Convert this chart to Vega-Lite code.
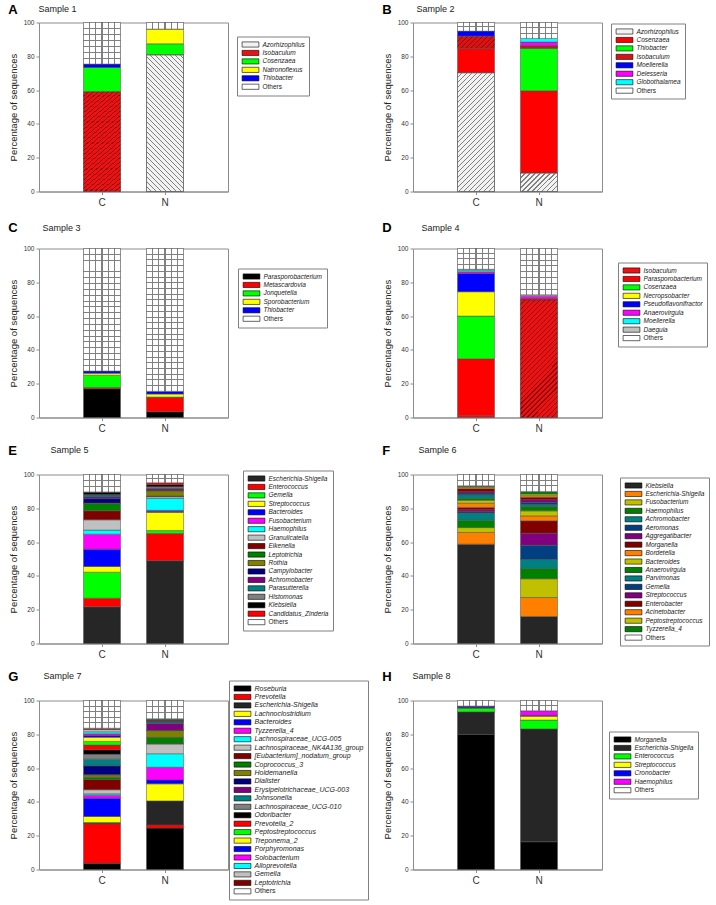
{
"$schema": "https://vega.github.io/schema/vega-lite/v6.json",
"padding": {"left": 7, "top": 2.5, "right": 0, "bottom": 0},
"columns": 2,
"spacing": {"row": 57, "column": 185},
"bounds": "flush",
"resolve": {"scale": {"color": "independent", "x": "independent", "y": "independent"}, "legend": {"color": "independent"}},
"config": {
 "font": "Liberation Sans",
 "view": {"stroke": "#8c8c8c", "strokeWidth": 1},
 "axis": {"domainColor": "#8c8c8c", "tickColor": "#8c8c8c", "labelColor": "#333333", "titleColor": "#222222", "grid": false, "titleFontWeight": "normal", "labelFont": "Liberation Sans", "titleFont": "Liberation Sans"},
 "axisY": {"labelFontSize": 6.5, "tickSize": 3, "labelPadding": 2, "titleFontSize": 9.5, "titlePadding": 5},
 "axisX": {"labelFontSize": 10, "tickSize": 3, "labelPadding": 3, "labelAngle": 0},
 "legend": {"orient": "none", "labelFont": "Liberation Sans", "labelFontSize": 6.5, "labelColor": "#222222", "symbolType": "M-2.4,-0.74H2.4V0.74H-2.4Z", "symbolSize": 49, "symbolStrokeColor": "#000000", "symbolStrokeWidth": 0.6, "symbolOffset": 5.5, "labelOffset": 8, "rowPadding": 0.45, "padding": 4, "strokeColor": "#808080", "fillColor": "#ffffff", "symbolOpacity": 1},
 "title": {"font": "Liberation Sans", "fontSize": 13, "fontWeight": "bold", "anchor": "start", "frame": "bounds", "color": "#000000", "offset": -12}
},
"concat": [
{
 "width": 189, "height": 169,
 "title": {"text": "A"},
 "resolve": {"axis": {"x": "independent"}},
 "data": {"values": [
  {"s":"C","g":"Isobaculum","v":59},{"s":"C","g":"Cosenzaea","v":14.4},{"s":"C","g":"Thiobacter","v":2.0},{"s":"C","g":"Others","v":24.6},
  {"s":"N","g":"Azorhizophilus","v":80.9},{"s":"N","g":"Cosenzaea","v":6.5},{"s":"N","g":"Natronoflexus","v":8.7},{"s":"N","g":"Others","v":3.9}
 ]},
 "transform": [{"window": [{"op": "row_number", "as": "o"}]}, {"stack": "v", "groupby": ["s"], "sort": [{"field": "o", "order": "ascending"}], "as": ["y0", "y1"]}],
 "encoding": {
  "x": {"field": "s", "type": "nominal", "sort": ["C","N"], "scale": {"paddingInner": 0.413, "paddingOuter": 0.7065}, "axis": {"title": null}},
  "y": {"field": "y0", "type": "quantitative", "scale": {"domain": [0,100], "nice": false}, "axis": {"title": "Percentage of sequences", "values": [0,20,40,60,80,100]}},
  "y2": {"field": "y1"}
 },
 "layer": [
  {"mark": {"type": "bar", "stroke": "#4d4d4d", "strokeWidth": 0.5},
   "encoding": {"color": {"field": "g", "type": "nominal",
    "scale": {"domain": ["Azorhizophilus","Isobaculum","Cosenzaea","Natronoflexus","Thiobacter","Others"], "range": ["#f2f2f2","#ee1111","#00ff00","#ffff00","#0000ff","#ffffff"]},
    "legend": {"title": null, "orient": "none", "legendX": 198, "legendY": 14, "encode": {"labels": {"update": {"fontStyle": {"signal": "datum.value === 'Others' ? 'normal' : 'italic'"}}}}}}}},
  {"transform": [{"filter": "datum.g === 'Isobaculum' || datum.g === 'Azorhizophilus'"}],
   "mark": {"type": "bar", "stroke": "#4d4d4d", "strokeWidth": 0.5},
   "encoding": {"x": {"field": "s", "type": "nominal", "sort": ["C","N"], "axis": null}, "fill": {"condition": {"test": "datum.s === 'C'", "value": {"gradient":"linear","x1":0,"y1":0,"x2":0.3723,"y2":1.1955,"stops":[
{"offset":0.0282,"color":"rgba(255,255,255,0)"},{"offset":0.0282,"color":"#8b0000"},{"offset":0.036,"color":"#8b0000"},{"offset":0.036,"color":"rgba(255,255,255,0)"},
{"offset":0.0603,"color":"rgba(255,255,255,0)"},{"offset":0.0603,"color":"#8b0000"},{"offset":0.0681,"color":"#8b0000"},{"offset":0.0681,"color":"rgba(255,255,255,0)"},
{"offset":0.0924,"color":"rgba(255,255,255,0)"},{"offset":0.0924,"color":"#8b0000"},{"offset":0.1002,"color":"#8b0000"},{"offset":0.1002,"color":"rgba(255,255,255,0)"},
{"offset":0.1245,"color":"rgba(255,255,255,0)"},{"offset":0.1245,"color":"#8b0000"},{"offset":0.1323,"color":"#8b0000"},{"offset":0.1323,"color":"rgba(255,255,255,0)"},
{"offset":0.1566,"color":"rgba(255,255,255,0)"},{"offset":0.1566,"color":"#8b0000"},{"offset":0.1644,"color":"#8b0000"},{"offset":0.1644,"color":"rgba(255,255,255,0)"},
{"offset":0.1887,"color":"rgba(255,255,255,0)"},{"offset":0.1887,"color":"#8b0000"},{"offset":0.1965,"color":"#8b0000"},{"offset":0.1965,"color":"rgba(255,255,255,0)"},
{"offset":0.2207,"color":"rgba(255,255,255,0)"},{"offset":0.2207,"color":"#8b0000"},{"offset":0.2285,"color":"#8b0000"},{"offset":0.2285,"color":"rgba(255,255,255,0)"},
{"offset":0.2528,"color":"rgba(255,255,255,0)"},{"offset":0.2528,"color":"#8b0000"},{"offset":0.2606,"color":"#8b0000"},{"offset":0.2606,"color":"rgba(255,255,255,0)"},
{"offset":0.2849,"color":"rgba(255,255,255,0)"},{"offset":0.2849,"color":"#8b0000"},{"offset":0.2927,"color":"#8b0000"},{"offset":0.2927,"color":"rgba(255,255,255,0)"},
{"offset":0.317,"color":"rgba(255,255,255,0)"},{"offset":0.317,"color":"#8b0000"},{"offset":0.3248,"color":"#8b0000"},{"offset":0.3248,"color":"rgba(255,255,255,0)"},
{"offset":0.3491,"color":"rgba(255,255,255,0)"},{"offset":0.3491,"color":"#8b0000"},{"offset":0.3569,"color":"#8b0000"},{"offset":0.3569,"color":"rgba(255,255,255,0)"},
{"offset":0.3812,"color":"rgba(255,255,255,0)"},{"offset":0.3812,"color":"#8b0000"},{"offset":0.389,"color":"#8b0000"},{"offset":0.389,"color":"rgba(255,255,255,0)"},
{"offset":0.4133,"color":"rgba(255,255,255,0)"},{"offset":0.4133,"color":"#8b0000"},{"offset":0.4211,"color":"#8b0000"},{"offset":0.4211,"color":"rgba(255,255,255,0)"},
{"offset":0.4454,"color":"rgba(255,255,255,0)"},{"offset":0.4454,"color":"#8b0000"},{"offset":0.4532,"color":"#8b0000"},{"offset":0.4532,"color":"rgba(255,255,255,0)"},
{"offset":0.4775,"color":"rgba(255,255,255,0)"},{"offset":0.4775,"color":"#8b0000"},{"offset":0.4853,"color":"#8b0000"},{"offset":0.4853,"color":"rgba(255,255,255,0)"},
{"offset":0.5096,"color":"rgba(255,255,255,0)"},{"offset":0.5096,"color":"#8b0000"},{"offset":0.5174,"color":"#8b0000"},{"offset":0.5174,"color":"rgba(255,255,255,0)"},
{"offset":0.5417,"color":"rgba(255,255,255,0)"},{"offset":0.5417,"color":"#8b0000"},{"offset":0.5495,"color":"#8b0000"},{"offset":0.5495,"color":"rgba(255,255,255,0)"},
{"offset":0.5738,"color":"rgba(255,255,255,0)"},{"offset":0.5738,"color":"#8b0000"},{"offset":0.5816,"color":"#8b0000"},{"offset":0.5816,"color":"rgba(255,255,255,0)"},
{"offset":0.6058,"color":"rgba(255,255,255,0)"},{"offset":0.6058,"color":"#8b0000"},{"offset":0.6136,"color":"#8b0000"},{"offset":0.6136,"color":"rgba(255,255,255,0)"},
{"offset":0.6379,"color":"rgba(255,255,255,0)"},{"offset":0.6379,"color":"#8b0000"},{"offset":0.6457,"color":"#8b0000"},{"offset":0.6457,"color":"rgba(255,255,255,0)"},
{"offset":0.67,"color":"rgba(255,255,255,0)"},{"offset":0.67,"color":"#8b0000"},{"offset":0.6778,"color":"#8b0000"},{"offset":0.6778,"color":"rgba(255,255,255,0)"},
{"offset":0.7021,"color":"rgba(255,255,255,0)"},{"offset":0.7021,"color":"#8b0000"},{"offset":0.7099,"color":"#8b0000"},{"offset":0.7099,"color":"rgba(255,255,255,0)"},
{"offset":0.7342,"color":"rgba(255,255,255,0)"},{"offset":0.7342,"color":"#8b0000"},{"offset":0.742,"color":"#8b0000"},{"offset":0.742,"color":"rgba(255,255,255,0)"},
{"offset":0.7663,"color":"rgba(255,255,255,0)"},{"offset":0.7663,"color":"#8b0000"},{"offset":0.7741,"color":"#8b0000"},{"offset":0.7741,"color":"rgba(255,255,255,0)"},
{"offset":0.7984,"color":"rgba(255,255,255,0)"},{"offset":0.7984,"color":"#8b0000"},{"offset":0.8062,"color":"#8b0000"},{"offset":0.8062,"color":"rgba(255,255,255,0)"},
{"offset":0.8305,"color":"rgba(255,255,255,0)"},{"offset":0.8305,"color":"#8b0000"},{"offset":0.8383,"color":"#8b0000"},{"offset":0.8383,"color":"rgba(255,255,255,0)"},
{"offset":0.8626,"color":"rgba(255,255,255,0)"},{"offset":0.8626,"color":"#8b0000"},{"offset":0.8704,"color":"#8b0000"},{"offset":0.8704,"color":"rgba(255,255,255,0)"},
{"offset":0.8947,"color":"rgba(255,255,255,0)"},{"offset":0.8947,"color":"#8b0000"},{"offset":0.9025,"color":"#8b0000"},{"offset":0.9025,"color":"rgba(255,255,255,0)"},
{"offset":0.9268,"color":"rgba(255,255,255,0)"},{"offset":0.9268,"color":"#8b0000"},{"offset":0.9346,"color":"#8b0000"},{"offset":0.9346,"color":"rgba(255,255,255,0)"},
{"offset":0.9589,"color":"rgba(255,255,255,0)"},{"offset":0.9589,"color":"#8b0000"},{"offset":0.9667,"color":"#8b0000"},{"offset":0.9667,"color":"rgba(255,255,255,0)"},
{"offset":0.991,"color":"rgba(255,255,255,0)"},{"offset":0.991,"color":"#8b0000"},{"offset":0.9988,"color":"#8b0000"},{"offset":0.9988,"color":"rgba(255,255,255,0)"}]}},
   "value": {"gradient":"linear","x1":0,"y1":1,"x2":0.3204,"y2":-0.1839,"stops":[
{"offset":0.0253,"color":"rgba(255,255,255,0)"},{"offset":0.0253,"color":"#808080"},{"offset":0.0323,"color":"#808080"},{"offset":0.0323,"color":"rgba(255,255,255,0)"},
{"offset":0.0541,"color":"rgba(255,255,255,0)"},{"offset":0.0541,"color":"#808080"},{"offset":0.0611,"color":"#808080"},{"offset":0.0611,"color":"rgba(255,255,255,0)"},
{"offset":0.0829,"color":"rgba(255,255,255,0)"},{"offset":0.0829,"color":"#808080"},{"offset":0.0899,"color":"#808080"},{"offset":0.0899,"color":"rgba(255,255,255,0)"},
{"offset":0.1116,"color":"rgba(255,255,255,0)"},{"offset":0.1116,"color":"#808080"},{"offset":0.1186,"color":"#808080"},{"offset":0.1186,"color":"rgba(255,255,255,0)"},
{"offset":0.1404,"color":"rgba(255,255,255,0)"},{"offset":0.1404,"color":"#808080"},{"offset":0.1474,"color":"#808080"},{"offset":0.1474,"color":"rgba(255,255,255,0)"},
{"offset":0.1692,"color":"rgba(255,255,255,0)"},{"offset":0.1692,"color":"#808080"},{"offset":0.1762,"color":"#808080"},{"offset":0.1762,"color":"rgba(255,255,255,0)"},
{"offset":0.198,"color":"rgba(255,255,255,0)"},{"offset":0.198,"color":"#808080"},{"offset":0.205,"color":"#808080"},{"offset":0.205,"color":"rgba(255,255,255,0)"},
{"offset":0.2268,"color":"rgba(255,255,255,0)"},{"offset":0.2268,"color":"#808080"},{"offset":0.2338,"color":"#808080"},{"offset":0.2338,"color":"rgba(255,255,255,0)"},
{"offset":0.2556,"color":"rgba(255,255,255,0)"},{"offset":0.2556,"color":"#808080"},{"offset":0.2626,"color":"#808080"},{"offset":0.2626,"color":"rgba(255,255,255,0)"},
{"offset":0.2844,"color":"rgba(255,255,255,0)"},{"offset":0.2844,"color":"#808080"},{"offset":0.2914,"color":"#808080"},{"offset":0.2914,"color":"rgba(255,255,255,0)"},
{"offset":0.3131,"color":"rgba(255,255,255,0)"},{"offset":0.3131,"color":"#808080"},{"offset":0.3201,"color":"#808080"},{"offset":0.3201,"color":"rgba(255,255,255,0)"},
{"offset":0.3419,"color":"rgba(255,255,255,0)"},{"offset":0.3419,"color":"#808080"},{"offset":0.3489,"color":"#808080"},{"offset":0.3489,"color":"rgba(255,255,255,0)"},
{"offset":0.3707,"color":"rgba(255,255,255,0)"},{"offset":0.3707,"color":"#808080"},{"offset":0.3777,"color":"#808080"},{"offset":0.3777,"color":"rgba(255,255,255,0)"},
{"offset":0.3995,"color":"rgba(255,255,255,0)"},{"offset":0.3995,"color":"#808080"},{"offset":0.4065,"color":"#808080"},{"offset":0.4065,"color":"rgba(255,255,255,0)"},
{"offset":0.4283,"color":"rgba(255,255,255,0)"},{"offset":0.4283,"color":"#808080"},{"offset":0.4353,"color":"#808080"},{"offset":0.4353,"color":"rgba(255,255,255,0)"},
{"offset":0.4571,"color":"rgba(255,255,255,0)"},{"offset":0.4571,"color":"#808080"},{"offset":0.4641,"color":"#808080"},{"offset":0.4641,"color":"rgba(255,255,255,0)"},
{"offset":0.4858,"color":"rgba(255,255,255,0)"},{"offset":0.4858,"color":"#808080"},{"offset":0.4928,"color":"#808080"},{"offset":0.4928,"color":"rgba(255,255,255,0)"},
{"offset":0.5146,"color":"rgba(255,255,255,0)"},{"offset":0.5146,"color":"#808080"},{"offset":0.5216,"color":"#808080"},{"offset":0.5216,"color":"rgba(255,255,255,0)"},
{"offset":0.5434,"color":"rgba(255,255,255,0)"},{"offset":0.5434,"color":"#808080"},{"offset":0.5504,"color":"#808080"},{"offset":0.5504,"color":"rgba(255,255,255,0)"},
{"offset":0.5722,"color":"rgba(255,255,255,0)"},{"offset":0.5722,"color":"#808080"},{"offset":0.5792,"color":"#808080"},{"offset":0.5792,"color":"rgba(255,255,255,0)"},
{"offset":0.601,"color":"rgba(255,255,255,0)"},{"offset":0.601,"color":"#808080"},{"offset":0.608,"color":"#808080"},{"offset":0.608,"color":"rgba(255,255,255,0)"},
{"offset":0.6298,"color":"rgba(255,255,255,0)"},{"offset":0.6298,"color":"#808080"},{"offset":0.6368,"color":"#808080"},{"offset":0.6368,"color":"rgba(255,255,255,0)"},
{"offset":0.6586,"color":"rgba(255,255,255,0)"},{"offset":0.6586,"color":"#808080"},{"offset":0.6656,"color":"#808080"},{"offset":0.6656,"color":"rgba(255,255,255,0)"},
{"offset":0.6873,"color":"rgba(255,255,255,0)"},{"offset":0.6873,"color":"#808080"},{"offset":0.6943,"color":"#808080"},{"offset":0.6943,"color":"rgba(255,255,255,0)"},
{"offset":0.7161,"color":"rgba(255,255,255,0)"},{"offset":0.7161,"color":"#808080"},{"offset":0.7231,"color":"#808080"},{"offset":0.7231,"color":"rgba(255,255,255,0)"},
{"offset":0.7449,"color":"rgba(255,255,255,0)"},{"offset":0.7449,"color":"#808080"},{"offset":0.7519,"color":"#808080"},{"offset":0.7519,"color":"rgba(255,255,255,0)"},
{"offset":0.7737,"color":"rgba(255,255,255,0)"},{"offset":0.7737,"color":"#808080"},{"offset":0.7807,"color":"#808080"},{"offset":0.7807,"color":"rgba(255,255,255,0)"},
{"offset":0.8025,"color":"rgba(255,255,255,0)"},{"offset":0.8025,"color":"#808080"},{"offset":0.8095,"color":"#808080"},{"offset":0.8095,"color":"rgba(255,255,255,0)"},
{"offset":0.8313,"color":"rgba(255,255,255,0)"},{"offset":0.8313,"color":"#808080"},{"offset":0.8383,"color":"#808080"},{"offset":0.8383,"color":"rgba(255,255,255,0)"},
{"offset":0.8601,"color":"rgba(255,255,255,0)"},{"offset":0.8601,"color":"#808080"},{"offset":0.8671,"color":"#808080"},{"offset":0.8671,"color":"rgba(255,255,255,0)"},
{"offset":0.8888,"color":"rgba(255,255,255,0)"},{"offset":0.8888,"color":"#808080"},{"offset":0.8958,"color":"#808080"},{"offset":0.8958,"color":"rgba(255,255,255,0)"},
{"offset":0.9176,"color":"rgba(255,255,255,0)"},{"offset":0.9176,"color":"#808080"},{"offset":0.9246,"color":"#808080"},{"offset":0.9246,"color":"rgba(255,255,255,0)"},
{"offset":0.9464,"color":"rgba(255,255,255,0)"},{"offset":0.9464,"color":"#808080"},{"offset":0.9534,"color":"#808080"},{"offset":0.9534,"color":"rgba(255,255,255,0)"},
{"offset":0.9752,"color":"rgba(255,255,255,0)"},{"offset":0.9752,"color":"#808080"},{"offset":0.9822,"color":"#808080"},{"offset":0.9822,"color":"rgba(255,255,255,0)"}]}}}},
  {"transform": [{"filter": "datum.g === 'Others'"}],
   "mark": {"type": "bar", "strokeWidth": 0, "fill": {"gradient":"linear","x1":0,"y1":0,"x2":1,"y2":0,"stops":[{"offset":0,"color":"#ffffff"},{"offset":0.153,"color":"#ffffff"},{"offset":0.153,"color":"#808080"},{"offset":0.181,"color":"#808080"},{"offset":0.181,"color":"#ffffff"},{"offset":0.319,"color":"#ffffff"},{"offset":0.319,"color":"#808080"},{"offset":0.347,"color":"#808080"},{"offset":0.347,"color":"#ffffff"},{"offset":0.486,"color":"#ffffff"},{"offset":0.486,"color":"#808080"},{"offset":0.514,"color":"#808080"},{"offset":0.514,"color":"#ffffff"},{"offset":0.653,"color":"#ffffff"},{"offset":0.653,"color":"#808080"},{"offset":0.681,"color":"#808080"},{"offset":0.681,"color":"#ffffff"},{"offset":0.819,"color":"#ffffff"},{"offset":0.819,"color":"#808080"},{"offset":0.847,"color":"#808080"},{"offset":0.847,"color":"#ffffff"},{"offset":1,"color":"#ffffff"}]}},
   "encoding": {"x": {"field": "s", "type": "nominal", "sort": ["C","N"], "axis": {"orient": "top", "title": "Sample 1", "labels": false, "ticks": false, "domain": false, "titleAnchor": "start", "titleAlign": "left", "titleBaseline": "alphabetic", "titleX": -1, "titleY": -11, "titleFontSize": 9, "titleFontWeight": "normal", "titleColor": "#222222"}}}},
  {"transform": [{"filter": "datum.g === 'Others'"}],
   "mark": {"type": "bar", "stroke": "#4d4d4d", "strokeWidth": 0.5},
   "encoding": {"x": {"field": "s", "type": "nominal", "sort": ["C","N"], "axis": null}, "fill": {"condition": {"test": "datum.s === 'C'", "value": {"gradient":"linear","x1":0,"y1":0,"x2":0,"y2":1,"stops":[{"offset":0.131,"color":"rgba(255,255,255,0)"},{"offset":0.131,"color":"#808080"},{"offset":0.155,"color":"#808080"},{"offset":0.155,"color":"rgba(255,255,255,0)"},{"offset":0.274,"color":"rgba(255,255,255,0)"},{"offset":0.274,"color":"#808080"},{"offset":0.298,"color":"#808080"},{"offset":0.298,"color":"rgba(255,255,255,0)"},{"offset":0.417,"color":"rgba(255,255,255,0)"},{"offset":0.417,"color":"#808080"},{"offset":0.441,"color":"#808080"},{"offset":0.441,"color":"rgba(255,255,255,0)"},{"offset":0.559,"color":"rgba(255,255,255,0)"},{"offset":0.559,"color":"#808080"},{"offset":0.583,"color":"#808080"},{"offset":0.583,"color":"rgba(255,255,255,0)"},{"offset":0.702,"color":"rgba(255,255,255,0)"},{"offset":0.702,"color":"#808080"},{"offset":0.726,"color":"#808080"},{"offset":0.726,"color":"rgba(255,255,255,0)"},{"offset":0.845,"color":"rgba(255,255,255,0)"},{"offset":0.845,"color":"#808080"},{"offset":0.869,"color":"#808080"},{"offset":0.869,"color":"rgba(255,255,255,0)"}]}}, "value": "transparent"}}}
 ]
},
{
 "width": 189, "height": 169,
 "title": {"text": "B"},
 "resolve": {"axis": {"x": "independent"}},
 "data": {"values": [
  {"s":"C","g":"Azorhizophilus","v":70.3},{"s":"C","g":"Cosenzaea","v":14.5},{"s":"C","g":"Isobaculum","v":7.1},{"s":"C","g":"Moellerella","v":3.0},{"s":"C","g":"Others","v":5.1},
  {"s":"N","g":"Azorhizophilus","v":11},{"s":"N","g":"Cosenzaea","v":48.6},{"s":"N","g":"Thiobacter","v":25.2},{"s":"N","g":"Isobaculum","v":1.4},{"s":"N","g":"Delesseria","v":2.2},{"s":"N","g":"Globothalamea","v":2.2},{"s":"N","g":"Others","v":9.4}
 ]},
 "transform": [{"window": [{"op": "row_number", "as": "o"}]}, {"stack": "v", "groupby": ["s"], "sort": [{"field": "o", "order": "ascending"}], "as": ["y0", "y1"]}],
 "encoding": {
  "x": {"field": "s", "type": "nominal", "sort": ["C","N"], "scale": {"paddingInner": 0.413, "paddingOuter": 0.7065}, "axis": {"title": null}},
  "y": {"field": "y0", "type": "quantitative", "scale": {"domain": [0,100], "nice": false}, "axis": {"title": "Percentage of sequences", "values": [0,20,40,60,80,100]}},
  "y2": {"field": "y1"}
 },
 "layer": [
  {"mark": {"type": "bar", "stroke": "#4d4d4d", "strokeWidth": 0.5},
   "encoding": {"color": {"field": "g", "type": "nominal",
    "scale": {"domain": ["Azorhizophilus","Cosenzaea","Thiobacter","Isobaculum","Moellerella","Delesseria","Globothalamea","Others"], "range": ["#f2f2f2","#ff0000","#00ff00","#dd1111","#0000ff","#ff00ff","#00ffff","#ffffff"]},
    "legend": {"title": null, "orient": "none", "legendX": 198, "legendY": 1, "encode": {"labels": {"update": {"fontStyle": {"signal": "datum.value === 'Others' ? 'normal' : 'italic'"}}}}}}}},
  {"transform": [{"filter": "datum.g === 'Isobaculum' || datum.g === 'Azorhizophilus'"}],
   "mark": {"type": "bar", "stroke": "#4d4d4d", "strokeWidth": 0.5},
   "encoding": {"x": {"field": "s", "type": "nominal", "sort": ["C","N"], "axis": null}, "fill": {"condition": [
    {"test": "datum.s === 'C' && datum.g === 'Azorhizophilus'", "value": {"gradient":"linear","x1":0,"y1":0,"x2":0.3723,"y2":1.1955,"stops":[
{"offset":0.0282,"color":"rgba(255,255,255,0)"},{"offset":0.0282,"color":"#808080"},{"offset":0.036,"color":"#808080"},{"offset":0.036,"color":"rgba(255,255,255,0)"},
{"offset":0.0603,"color":"rgba(255,255,255,0)"},{"offset":0.0603,"color":"#808080"},{"offset":0.0681,"color":"#808080"},{"offset":0.0681,"color":"rgba(255,255,255,0)"},
{"offset":0.0924,"color":"rgba(255,255,255,0)"},{"offset":0.0924,"color":"#808080"},{"offset":0.1002,"color":"#808080"},{"offset":0.1002,"color":"rgba(255,255,255,0)"},
{"offset":0.1245,"color":"rgba(255,255,255,0)"},{"offset":0.1245,"color":"#808080"},{"offset":0.1323,"color":"#808080"},{"offset":0.1323,"color":"rgba(255,255,255,0)"},
{"offset":0.1566,"color":"rgba(255,255,255,0)"},{"offset":0.1566,"color":"#808080"},{"offset":0.1644,"color":"#808080"},{"offset":0.1644,"color":"rgba(255,255,255,0)"},
{"offset":0.1887,"color":"rgba(255,255,255,0)"},{"offset":0.1887,"color":"#808080"},{"offset":0.1965,"color":"#808080"},{"offset":0.1965,"color":"rgba(255,255,255,0)"},
{"offset":0.2207,"color":"rgba(255,255,255,0)"},{"offset":0.2207,"color":"#808080"},{"offset":0.2285,"color":"#808080"},{"offset":0.2285,"color":"rgba(255,255,255,0)"},
{"offset":0.2528,"color":"rgba(255,255,255,0)"},{"offset":0.2528,"color":"#808080"},{"offset":0.2606,"color":"#808080"},{"offset":0.2606,"color":"rgba(255,255,255,0)"},
{"offset":0.2849,"color":"rgba(255,255,255,0)"},{"offset":0.2849,"color":"#808080"},{"offset":0.2927,"color":"#808080"},{"offset":0.2927,"color":"rgba(255,255,255,0)"},
{"offset":0.317,"color":"rgba(255,255,255,0)"},{"offset":0.317,"color":"#808080"},{"offset":0.3248,"color":"#808080"},{"offset":0.3248,"color":"rgba(255,255,255,0)"},
{"offset":0.3491,"color":"rgba(255,255,255,0)"},{"offset":0.3491,"color":"#808080"},{"offset":0.3569,"color":"#808080"},{"offset":0.3569,"color":"rgba(255,255,255,0)"},
{"offset":0.3812,"color":"rgba(255,255,255,0)"},{"offset":0.3812,"color":"#808080"},{"offset":0.389,"color":"#808080"},{"offset":0.389,"color":"rgba(255,255,255,0)"},
{"offset":0.4133,"color":"rgba(255,255,255,0)"},{"offset":0.4133,"color":"#808080"},{"offset":0.4211,"color":"#808080"},{"offset":0.4211,"color":"rgba(255,255,255,0)"},
{"offset":0.4454,"color":"rgba(255,255,255,0)"},{"offset":0.4454,"color":"#808080"},{"offset":0.4532,"color":"#808080"},{"offset":0.4532,"color":"rgba(255,255,255,0)"},
{"offset":0.4775,"color":"rgba(255,255,255,0)"},{"offset":0.4775,"color":"#808080"},{"offset":0.4853,"color":"#808080"},{"offset":0.4853,"color":"rgba(255,255,255,0)"},
{"offset":0.5096,"color":"rgba(255,255,255,0)"},{"offset":0.5096,"color":"#808080"},{"offset":0.5174,"color":"#808080"},{"offset":0.5174,"color":"rgba(255,255,255,0)"},
{"offset":0.5417,"color":"rgba(255,255,255,0)"},{"offset":0.5417,"color":"#808080"},{"offset":0.5495,"color":"#808080"},{"offset":0.5495,"color":"rgba(255,255,255,0)"},
{"offset":0.5738,"color":"rgba(255,255,255,0)"},{"offset":0.5738,"color":"#808080"},{"offset":0.5816,"color":"#808080"},{"offset":0.5816,"color":"rgba(255,255,255,0)"},
{"offset":0.6058,"color":"rgba(255,255,255,0)"},{"offset":0.6058,"color":"#808080"},{"offset":0.6136,"color":"#808080"},{"offset":0.6136,"color":"rgba(255,255,255,0)"},
{"offset":0.6379,"color":"rgba(255,255,255,0)"},{"offset":0.6379,"color":"#808080"},{"offset":0.6457,"color":"#808080"},{"offset":0.6457,"color":"rgba(255,255,255,0)"},
{"offset":0.67,"color":"rgba(255,255,255,0)"},{"offset":0.67,"color":"#808080"},{"offset":0.6778,"color":"#808080"},{"offset":0.6778,"color":"rgba(255,255,255,0)"},
{"offset":0.7021,"color":"rgba(255,255,255,0)"},{"offset":0.7021,"color":"#808080"},{"offset":0.7099,"color":"#808080"},{"offset":0.7099,"color":"rgba(255,255,255,0)"},
{"offset":0.7342,"color":"rgba(255,255,255,0)"},{"offset":0.7342,"color":"#808080"},{"offset":0.742,"color":"#808080"},{"offset":0.742,"color":"rgba(255,255,255,0)"},
{"offset":0.7663,"color":"rgba(255,255,255,0)"},{"offset":0.7663,"color":"#808080"},{"offset":0.7741,"color":"#808080"},{"offset":0.7741,"color":"rgba(255,255,255,0)"},
{"offset":0.7984,"color":"rgba(255,255,255,0)"},{"offset":0.7984,"color":"#808080"},{"offset":0.8062,"color":"#808080"},{"offset":0.8062,"color":"rgba(255,255,255,0)"},
{"offset":0.8305,"color":"rgba(255,255,255,0)"},{"offset":0.8305,"color":"#808080"},{"offset":0.8383,"color":"#808080"},{"offset":0.8383,"color":"rgba(255,255,255,0)"},
{"offset":0.8626,"color":"rgba(255,255,255,0)"},{"offset":0.8626,"color":"#808080"},{"offset":0.8704,"color":"#808080"},{"offset":0.8704,"color":"rgba(255,255,255,0)"},
{"offset":0.8947,"color":"rgba(255,255,255,0)"},{"offset":0.8947,"color":"#808080"},{"offset":0.9025,"color":"#808080"},{"offset":0.9025,"color":"rgba(255,255,255,0)"},
{"offset":0.9268,"color":"rgba(255,255,255,0)"},{"offset":0.9268,"color":"#808080"},{"offset":0.9346,"color":"#808080"},{"offset":0.9346,"color":"rgba(255,255,255,0)"},
{"offset":0.9589,"color":"rgba(255,255,255,0)"},{"offset":0.9589,"color":"#808080"},{"offset":0.9667,"color":"#808080"},{"offset":0.9667,"color":"rgba(255,255,255,0)"},
{"offset":0.991,"color":"rgba(255,255,255,0)"},{"offset":0.991,"color":"#808080"},{"offset":0.9988,"color":"#808080"},{"offset":0.9988,"color":"rgba(255,255,255,0)"}]}},
    {"test": "datum.s === 'C' && datum.g === 'Isobaculum'", "value": {"gradient":"linear","x1":0,"y1":0,"x2":1.198,"y2":0.3886,"stops":[
{"offset":0.0898,"color":"rgba(255,255,255,0)"},{"offset":0.0898,"color":"#8b0000"},{"offset":0.1142,"color":"#8b0000"},{"offset":0.1142,"color":"rgba(255,255,255,0)"},
{"offset":0.1919,"color":"rgba(255,255,255,0)"},{"offset":0.1919,"color":"#8b0000"},{"offset":0.2163,"color":"#8b0000"},{"offset":0.2163,"color":"rgba(255,255,255,0)"},
{"offset":0.2939,"color":"rgba(255,255,255,0)"},{"offset":0.2939,"color":"#8b0000"},{"offset":0.3183,"color":"#8b0000"},{"offset":0.3183,"color":"rgba(255,255,255,0)"},
{"offset":0.396,"color":"rgba(255,255,255,0)"},{"offset":0.396,"color":"#8b0000"},{"offset":0.4204,"color":"#8b0000"},{"offset":0.4204,"color":"rgba(255,255,255,0)"},
{"offset":0.498,"color":"rgba(255,255,255,0)"},{"offset":0.498,"color":"#8b0000"},{"offset":0.5224,"color":"#8b0000"},{"offset":0.5224,"color":"rgba(255,255,255,0)"},
{"offset":0.6,"color":"rgba(255,255,255,0)"},{"offset":0.6,"color":"#8b0000"},{"offset":0.6244,"color":"#8b0000"},{"offset":0.6244,"color":"rgba(255,255,255,0)"},
{"offset":0.7021,"color":"rgba(255,255,255,0)"},{"offset":0.7021,"color":"#8b0000"},{"offset":0.7265,"color":"#8b0000"},{"offset":0.7265,"color":"rgba(255,255,255,0)"},
{"offset":0.8041,"color":"rgba(255,255,255,0)"},{"offset":0.8041,"color":"#8b0000"},{"offset":0.8285,"color":"#8b0000"},{"offset":0.8285,"color":"rgba(255,255,255,0)"},
{"offset":0.9062,"color":"rgba(255,255,255,0)"},{"offset":0.9062,"color":"#8b0000"},{"offset":0.9306,"color":"#8b0000"},{"offset":0.9306,"color":"rgba(255,255,255,0)"}]}},
    {"test": "datum.s === 'N' && datum.g === 'Azorhizophilus'", "value": {"gradient":"linear","x1":0,"y1":0,"x2":1.1995,"y2":0.603,"stops":[
{"offset":0.0791,"color":"rgba(255,255,255,0)"},{"offset":0.0791,"color":"#808080"},{"offset":0.1007,"color":"#808080"},{"offset":0.1007,"color":"rgba(255,255,255,0)"},
{"offset":0.1691,"color":"rgba(255,255,255,0)"},{"offset":0.1691,"color":"#808080"},{"offset":0.1907,"color":"#808080"},{"offset":0.1907,"color":"rgba(255,255,255,0)"},
{"offset":0.259,"color":"rgba(255,255,255,0)"},{"offset":0.259,"color":"#808080"},{"offset":0.2806,"color":"#808080"},{"offset":0.2806,"color":"rgba(255,255,255,0)"},
{"offset":0.3489,"color":"rgba(255,255,255,0)"},{"offset":0.3489,"color":"#808080"},{"offset":0.3705,"color":"#808080"},{"offset":0.3705,"color":"rgba(255,255,255,0)"},
{"offset":0.4388,"color":"rgba(255,255,255,0)"},{"offset":0.4388,"color":"#808080"},{"offset":0.4604,"color":"#808080"},{"offset":0.4604,"color":"rgba(255,255,255,0)"},
{"offset":0.5288,"color":"rgba(255,255,255,0)"},{"offset":0.5288,"color":"#808080"},{"offset":0.5504,"color":"#808080"},{"offset":0.5504,"color":"rgba(255,255,255,0)"},
{"offset":0.6187,"color":"rgba(255,255,255,0)"},{"offset":0.6187,"color":"#808080"},{"offset":0.6403,"color":"#808080"},{"offset":0.6403,"color":"rgba(255,255,255,0)"},
{"offset":0.7086,"color":"rgba(255,255,255,0)"},{"offset":0.7086,"color":"#808080"},{"offset":0.7302,"color":"#808080"},{"offset":0.7302,"color":"rgba(255,255,255,0)"},
{"offset":0.7986,"color":"rgba(255,255,255,0)"},{"offset":0.7986,"color":"#808080"},{"offset":0.8202,"color":"#808080"},{"offset":0.8202,"color":"rgba(255,255,255,0)"},
{"offset":0.8885,"color":"rgba(255,255,255,0)"},{"offset":0.8885,"color":"#808080"},{"offset":0.9101,"color":"#808080"},{"offset":0.9101,"color":"rgba(255,255,255,0)"},
{"offset":0.9784,"color":"rgba(255,255,255,0)"},{"offset":0.9784,"color":"#808080"},{"offset":1,"color":"#808080"}]}}
   ], "value": "transparent"}}},
  {"transform": [{"filter": "datum.g === 'Others'"}],
   "mark": {"type": "bar", "strokeWidth": 0, "fill": {"gradient":"linear","x1":0,"y1":0,"x2":1,"y2":0,"stops":[{"offset":0,"color":"#ffffff"},{"offset":0.153,"color":"#ffffff"},{"offset":0.153,"color":"#808080"},{"offset":0.181,"color":"#808080"},{"offset":0.181,"color":"#ffffff"},{"offset":0.319,"color":"#ffffff"},{"offset":0.319,"color":"#808080"},{"offset":0.347,"color":"#808080"},{"offset":0.347,"color":"#ffffff"},{"offset":0.486,"color":"#ffffff"},{"offset":0.486,"color":"#808080"},{"offset":0.514,"color":"#808080"},{"offset":0.514,"color":"#ffffff"},{"offset":0.653,"color":"#ffffff"},{"offset":0.653,"color":"#808080"},{"offset":0.681,"color":"#808080"},{"offset":0.681,"color":"#ffffff"},{"offset":0.819,"color":"#ffffff"},{"offset":0.819,"color":"#808080"},{"offset":0.847,"color":"#808080"},{"offset":0.847,"color":"#ffffff"},{"offset":1,"color":"#ffffff"}]}},
   "encoding": {"x": {"field": "s", "type": "nominal", "sort": ["C","N"], "axis": {"orient": "top", "title": "Sample 2", "labels": false, "ticks": false, "domain": false, "titleAnchor": "start", "titleAlign": "left", "titleBaseline": "alphabetic", "titleX": 3, "titleY": -11, "titleFontSize": 9, "titleFontWeight": "normal", "titleColor": "#222222"}}}},
  {"transform": [{"filter": "datum.g === 'Others'"}],
   "mark": {"type": "bar", "stroke": "#4d4d4d", "strokeWidth": 0.5},
   "encoding": {"x": {"field": "s", "type": "nominal", "sort": ["C","N"], "axis": null}, "fill": {"condition": {"test": "datum.s === 'C'", "value": {"gradient":"linear","x1":0,"y1":0,"x2":0,"y2":1,"stops":[{"offset":0.45,"color":"rgba(255,255,255,0)"},{"offset":0.45,"color":"#808080"},{"offset":0.55,"color":"#808080"},{"offset":0.55,"color":"rgba(255,255,255,0)"}]}}, "value": {"gradient":"linear","x1":0,"y1":0,"x2":0,"y2":1,"stops":[{"offset":0.303,"color":"rgba(255,255,255,0)"},{"offset":0.303,"color":"#808080"},{"offset":0.363,"color":"#808080"},{"offset":0.363,"color":"rgba(255,255,255,0)"},{"offset":0.637,"color":"rgba(255,255,255,0)"},{"offset":0.637,"color":"#808080"},{"offset":0.697,"color":"#808080"},{"offset":0.697,"color":"rgba(255,255,255,0)"}]}}}}
 ]
},
{
 "width": 189, "height": 169,
 "title": {"text": "C"},
 "resolve": {"axis": {"x": "independent"}},
 "data": {"values": [
  {"s":"C","g":"Parasporobacterium","v":17},{"s":"C","g":"Metascardovia","v":0.8},{"s":"C","g":"Jonquetella","v":7.2},{"s":"C","g":"Sporobacterium","v":1.2},{"s":"C","g":"Thiobacter","v":1.3},{"s":"C","g":"Others","v":72.5},
  {"s":"N","g":"Parasporobacterium","v":3.4},{"s":"N","g":"Metascardovia","v":8.4},{"s":"N","g":"Jonquetella","v":0.3},{"s":"N","g":"Sporobacterium","v":1.8},{"s":"N","g":"Thiobacter","v":1.6},{"s":"N","g":"Others","v":84.5}
 ]},
 "transform": [{"window": [{"op": "row_number", "as": "o"}]}, {"stack": "v", "groupby": ["s"], "sort": [{"field": "o", "order": "ascending"}], "as": ["y0", "y1"]}],
 "encoding": {
  "x": {"field": "s", "type": "nominal", "sort": ["C","N"], "scale": {"paddingInner": 0.413, "paddingOuter": 0.7065}, "axis": {"title": null}},
  "y": {"field": "y0", "type": "quantitative", "scale": {"domain": [0,100], "nice": false}, "axis": {"title": "Percentage of sequences", "values": [0,20,40,60,80,100]}},
  "y2": {"field": "y1"}
 },
 "layer": [
  {"mark": {"type": "bar", "stroke": "#4d4d4d", "strokeWidth": 0.5},
   "encoding": {"color": {"field": "g", "type": "nominal",
    "scale": {"domain": ["Parasporobacterium","Metascardovia","Jonquetella","Sporobacterium","Thiobacter","Others"], "range": ["#000000","#ff0000","#00ff00","#ffff00","#0000ff","#ffffff"]},
    "legend": {"title": null, "orient": "none", "legendX": 199, "legendY": 20, "encode": {"labels": {"update": {"fontStyle": {"signal": "datum.value === 'Others' ? 'normal' : 'italic'"}}}}}}}},
  {"transform": [{"filter": "datum.g === 'Others'"}],
   "mark": {"type": "bar", "strokeWidth": 0, "fill": {"gradient":"linear","x1":0,"y1":0,"x2":1,"y2":0,"stops":[{"offset":0,"color":"#ffffff"},{"offset":0.153,"color":"#ffffff"},{"offset":0.153,"color":"#808080"},{"offset":0.181,"color":"#808080"},{"offset":0.181,"color":"#ffffff"},{"offset":0.319,"color":"#ffffff"},{"offset":0.319,"color":"#808080"},{"offset":0.347,"color":"#808080"},{"offset":0.347,"color":"#ffffff"},{"offset":0.486,"color":"#ffffff"},{"offset":0.486,"color":"#808080"},{"offset":0.514,"color":"#808080"},{"offset":0.514,"color":"#ffffff"},{"offset":0.653,"color":"#ffffff"},{"offset":0.653,"color":"#808080"},{"offset":0.681,"color":"#808080"},{"offset":0.681,"color":"#ffffff"},{"offset":0.819,"color":"#ffffff"},{"offset":0.819,"color":"#808080"},{"offset":0.847,"color":"#808080"},{"offset":0.847,"color":"#ffffff"},{"offset":1,"color":"#ffffff"}]}},
   "encoding": {"x": {"field": "s", "type": "nominal", "sort": ["C","N"], "axis": {"orient": "top", "title": "Sample 3", "labels": false, "ticks": false, "domain": false, "titleAnchor": "start", "titleAlign": "left", "titleBaseline": "alphabetic", "titleX": 3, "titleY": -18.5, "titleFontSize": 9, "titleFontWeight": "normal", "titleColor": "#222222"}}}},
  {"transform": [{"filter": "datum.g === 'Others'"}],
   "mark": {"type": "bar", "stroke": "#4d4d4d", "strokeWidth": 0.5},
   "encoding": {"x": {"field": "s", "type": "nominal", "sort": ["C","N"], "axis": null}, "fill": {"condition": {"test": "datum.s === 'C'", "value": {"gradient":"linear","x1":0,"y1":0,"x2":0,"y2":1,"stops":[
{"offset":0.0436,"color":"rgba(255,255,255,0)"},{"offset":0.0436,"color":"#808080"},{"offset":0.0516,"color":"#808080"},{"offset":0.0516,"color":"rgba(255,255,255,0)"},
{"offset":0.0912,"color":"rgba(255,255,255,0)"},{"offset":0.0912,"color":"#808080"},{"offset":0.0992,"color":"#808080"},{"offset":0.0992,"color":"rgba(255,255,255,0)"},
{"offset":0.1389,"color":"rgba(255,255,255,0)"},{"offset":0.1389,"color":"#808080"},{"offset":0.1469,"color":"#808080"},{"offset":0.1469,"color":"rgba(255,255,255,0)"},
{"offset":0.1865,"color":"rgba(255,255,255,0)"},{"offset":0.1865,"color":"#808080"},{"offset":0.1945,"color":"#808080"},{"offset":0.1945,"color":"rgba(255,255,255,0)"},
{"offset":0.2341,"color":"rgba(255,255,255,0)"},{"offset":0.2341,"color":"#808080"},{"offset":0.2421,"color":"#808080"},{"offset":0.2421,"color":"rgba(255,255,255,0)"},
{"offset":0.2817,"color":"rgba(255,255,255,0)"},{"offset":0.2817,"color":"#808080"},{"offset":0.2897,"color":"#808080"},{"offset":0.2897,"color":"rgba(255,255,255,0)"},
{"offset":0.3293,"color":"rgba(255,255,255,0)"},{"offset":0.3293,"color":"#808080"},{"offset":0.3373,"color":"#808080"},{"offset":0.3373,"color":"rgba(255,255,255,0)"},
{"offset":0.377,"color":"rgba(255,255,255,0)"},{"offset":0.377,"color":"#808080"},{"offset":0.385,"color":"#808080"},{"offset":0.385,"color":"rgba(255,255,255,0)"},
{"offset":0.4246,"color":"rgba(255,255,255,0)"},{"offset":0.4246,"color":"#808080"},{"offset":0.4326,"color":"#808080"},{"offset":0.4326,"color":"rgba(255,255,255,0)"},
{"offset":0.4722,"color":"rgba(255,255,255,0)"},{"offset":0.4722,"color":"#808080"},{"offset":0.4802,"color":"#808080"},{"offset":0.4802,"color":"rgba(255,255,255,0)"},
{"offset":0.5198,"color":"rgba(255,255,255,0)"},{"offset":0.5198,"color":"#808080"},{"offset":0.5278,"color":"#808080"},{"offset":0.5278,"color":"rgba(255,255,255,0)"},
{"offset":0.5674,"color":"rgba(255,255,255,0)"},{"offset":0.5674,"color":"#808080"},{"offset":0.5754,"color":"#808080"},{"offset":0.5754,"color":"rgba(255,255,255,0)"},
{"offset":0.615,"color":"rgba(255,255,255,0)"},{"offset":0.615,"color":"#808080"},{"offset":0.623,"color":"#808080"},{"offset":0.623,"color":"rgba(255,255,255,0)"},
{"offset":0.6627,"color":"rgba(255,255,255,0)"},{"offset":0.6627,"color":"#808080"},{"offset":0.6707,"color":"#808080"},{"offset":0.6707,"color":"rgba(255,255,255,0)"},
{"offset":0.7103,"color":"rgba(255,255,255,0)"},{"offset":0.7103,"color":"#808080"},{"offset":0.7183,"color":"#808080"},{"offset":0.7183,"color":"rgba(255,255,255,0)"},
{"offset":0.7579,"color":"rgba(255,255,255,0)"},{"offset":0.7579,"color":"#808080"},{"offset":0.7659,"color":"#808080"},{"offset":0.7659,"color":"rgba(255,255,255,0)"},
{"offset":0.8055,"color":"rgba(255,255,255,0)"},{"offset":0.8055,"color":"#808080"},{"offset":0.8135,"color":"#808080"},{"offset":0.8135,"color":"rgba(255,255,255,0)"},
{"offset":0.8531,"color":"rgba(255,255,255,0)"},{"offset":0.8531,"color":"#808080"},{"offset":0.8611,"color":"#808080"},{"offset":0.8611,"color":"rgba(255,255,255,0)"},
{"offset":0.9008,"color":"rgba(255,255,255,0)"},{"offset":0.9008,"color":"#808080"},{"offset":0.9088,"color":"#808080"},{"offset":0.9088,"color":"rgba(255,255,255,0)"},
{"offset":0.9484,"color":"rgba(255,255,255,0)"},{"offset":0.9484,"color":"#808080"},{"offset":0.9564,"color":"#808080"},{"offset":0.9564,"color":"rgba(255,255,255,0)"}]}},
   "value": {"gradient":"linear","x1":0,"y1":0,"x2":0,"y2":1,"stops":[
{"offset":0.0365,"color":"rgba(255,255,255,0)"},{"offset":0.0365,"color":"#808080"},{"offset":0.0435,"color":"#808080"},{"offset":0.0435,"color":"rgba(255,255,255,0)"},
{"offset":0.0765,"color":"rgba(255,255,255,0)"},{"offset":0.0765,"color":"#808080"},{"offset":0.0835,"color":"#808080"},{"offset":0.0835,"color":"rgba(255,255,255,0)"},
{"offset":0.1165,"color":"rgba(255,255,255,0)"},{"offset":0.1165,"color":"#808080"},{"offset":0.1235,"color":"#808080"},{"offset":0.1235,"color":"rgba(255,255,255,0)"},
{"offset":0.1565,"color":"rgba(255,255,255,0)"},{"offset":0.1565,"color":"#808080"},{"offset":0.1635,"color":"#808080"},{"offset":0.1635,"color":"rgba(255,255,255,0)"},
{"offset":0.1965,"color":"rgba(255,255,255,0)"},{"offset":0.1965,"color":"#808080"},{"offset":0.2035,"color":"#808080"},{"offset":0.2035,"color":"rgba(255,255,255,0)"},
{"offset":0.2365,"color":"rgba(255,255,255,0)"},{"offset":0.2365,"color":"#808080"},{"offset":0.2435,"color":"#808080"},{"offset":0.2435,"color":"rgba(255,255,255,0)"},
{"offset":0.2765,"color":"rgba(255,255,255,0)"},{"offset":0.2765,"color":"#808080"},{"offset":0.2835,"color":"#808080"},{"offset":0.2835,"color":"rgba(255,255,255,0)"},
{"offset":0.3165,"color":"rgba(255,255,255,0)"},{"offset":0.3165,"color":"#808080"},{"offset":0.3235,"color":"#808080"},{"offset":0.3235,"color":"rgba(255,255,255,0)"},
{"offset":0.3565,"color":"rgba(255,255,255,0)"},{"offset":0.3565,"color":"#808080"},{"offset":0.3635,"color":"#808080"},{"offset":0.3635,"color":"rgba(255,255,255,0)"},
{"offset":0.3965,"color":"rgba(255,255,255,0)"},{"offset":0.3965,"color":"#808080"},{"offset":0.4035,"color":"#808080"},{"offset":0.4035,"color":"rgba(255,255,255,0)"},
{"offset":0.4365,"color":"rgba(255,255,255,0)"},{"offset":0.4365,"color":"#808080"},{"offset":0.4435,"color":"#808080"},{"offset":0.4435,"color":"rgba(255,255,255,0)"},
{"offset":0.4765,"color":"rgba(255,255,255,0)"},{"offset":0.4765,"color":"#808080"},{"offset":0.4835,"color":"#808080"},{"offset":0.4835,"color":"rgba(255,255,255,0)"},
{"offset":0.5165,"color":"rgba(255,255,255,0)"},{"offset":0.5165,"color":"#808080"},{"offset":0.5235,"color":"#808080"},{"offset":0.5235,"color":"rgba(255,255,255,0)"},
{"offset":0.5565,"color":"rgba(255,255,255,0)"},{"offset":0.5565,"color":"#808080"},{"offset":0.5635,"color":"#808080"},{"offset":0.5635,"color":"rgba(255,255,255,0)"},
{"offset":0.5965,"color":"rgba(255,255,255,0)"},{"offset":0.5965,"color":"#808080"},{"offset":0.6035,"color":"#808080"},{"offset":0.6035,"color":"rgba(255,255,255,0)"},
{"offset":0.6365,"color":"rgba(255,255,255,0)"},{"offset":0.6365,"color":"#808080"},{"offset":0.6435,"color":"#808080"},{"offset":0.6435,"color":"rgba(255,255,255,0)"},
{"offset":0.6765,"color":"rgba(255,255,255,0)"},{"offset":0.6765,"color":"#808080"},{"offset":0.6835,"color":"#808080"},{"offset":0.6835,"color":"rgba(255,255,255,0)"},
{"offset":0.7165,"color":"rgba(255,255,255,0)"},{"offset":0.7165,"color":"#808080"},{"offset":0.7235,"color":"#808080"},{"offset":0.7235,"color":"rgba(255,255,255,0)"},
{"offset":0.7565,"color":"rgba(255,255,255,0)"},{"offset":0.7565,"color":"#808080"},{"offset":0.7635,"color":"#808080"},{"offset":0.7635,"color":"rgba(255,255,255,0)"},
{"offset":0.7965,"color":"rgba(255,255,255,0)"},{"offset":0.7965,"color":"#808080"},{"offset":0.8035,"color":"#808080"},{"offset":0.8035,"color":"rgba(255,255,255,0)"},
{"offset":0.8365,"color":"rgba(255,255,255,0)"},{"offset":0.8365,"color":"#808080"},{"offset":0.8435,"color":"#808080"},{"offset":0.8435,"color":"rgba(255,255,255,0)"},
{"offset":0.8765,"color":"rgba(255,255,255,0)"},{"offset":0.8765,"color":"#808080"},{"offset":0.8835,"color":"#808080"},{"offset":0.8835,"color":"rgba(255,255,255,0)"},
{"offset":0.9165,"color":"rgba(255,255,255,0)"},{"offset":0.9165,"color":"#808080"},{"offset":0.9235,"color":"#808080"},{"offset":0.9235,"color":"rgba(255,255,255,0)"},
{"offset":0.9565,"color":"rgba(255,255,255,0)"},{"offset":0.9565,"color":"#808080"},{"offset":0.9635,"color":"#808080"},{"offset":0.9635,"color":"rgba(255,255,255,0)"}]}}}}
 ]
},
{
 "width": 189, "height": 169,
 "title": {"text": "D"},
 "resolve": {"axis": {"x": "independent"}},
 "data": {"values": [
  {"s":"C","g":"Isobaculum","v":1.0},{"s":"C","g":"Parasporobacterium","v":33.7},{"s":"C","g":"Cosenzaea","v":25.3},{"s":"C","g":"Necropsobacter","v":14.4},{"s":"C","g":"Pseudoflavonifractor","v":10.8},{"s":"C","g":"Anaerovirgula","v":1.0},{"s":"C","g":"Moellerella","v":1.0},{"s":"C","g":"Daeguia","v":0.5},{"s":"C","g":"Others","v":12.3},
  {"s":"N","g":"Isobaculum","v":69.6},{"s":"N","g":"Parasporobacterium","v":0.8},{"s":"N","g":"Anaerovirgula","v":1.4},{"s":"N","g":"Daeguia","v":0.8},{"s":"N","g":"Others","v":27.4}
 ]},
 "transform": [{"window": [{"op": "row_number", "as": "o"}]}, {"stack": "v", "groupby": ["s"], "sort": [{"field": "o", "order": "ascending"}], "as": ["y0", "y1"]}],
 "encoding": {
  "x": {"field": "s", "type": "nominal", "sort": ["C","N"], "scale": {"paddingInner": 0.413, "paddingOuter": 0.7065}, "axis": {"title": null}},
  "y": {"field": "y0", "type": "quantitative", "scale": {"domain": [0,100], "nice": false}, "axis": {"title": "Percentage of sequences", "values": [0,20,40,60,80,100]}},
  "y2": {"field": "y1"}
 },
 "layer": [
  {"mark": {"type": "bar", "stroke": "#4d4d4d", "strokeWidth": 0.5},
   "encoding": {"color": {"field": "g", "type": "nominal",
    "scale": {"domain": ["Isobaculum","Parasporobacterium","Cosenzaea","Necropsobacter","Pseudoflavonifractor","Anaerovirgula","Moellerella","Daeguia","Others"], "range": ["#ee1111","#ff0000","#00ff00","#ffff00","#0000ff","#ff00ff","#00ffff","#c0c0c0","#ffffff"]},
    "legend": {"title": null, "orient": "none", "legendX": 205, "legendY": 14, "encode": {"labels": {"update": {"fontStyle": {"signal": "datum.value === 'Others' ? 'normal' : 'italic'"}}}}}}}},
  {"transform": [{"filter": "datum.g === 'Isobaculum' && datum.s === 'N'"}],
   "encoding": {"x": {"field": "s", "type": "nominal", "sort": ["C","N"], "axis": null}},
   "mark": {"type": "bar", "stroke": "#4d4d4d", "strokeWidth": 0.5, "fill": {"gradient":"linear","x1":0,"y1":0,"x2":0.3764,"y2":1.1962,"stops":[
{"offset":0.0282,"color":"rgba(255,255,255,0)"},{"offset":0.0282,"color":"#8b0000"},{"offset":0.036,"color":"#8b0000"},{"offset":0.036,"color":"rgba(255,255,255,0)"},
{"offset":0.0603,"color":"rgba(255,255,255,0)"},{"offset":0.0603,"color":"#8b0000"},{"offset":0.0681,"color":"#8b0000"},{"offset":0.0681,"color":"rgba(255,255,255,0)"},
{"offset":0.0924,"color":"rgba(255,255,255,0)"},{"offset":0.0924,"color":"#8b0000"},{"offset":0.1002,"color":"#8b0000"},{"offset":0.1002,"color":"rgba(255,255,255,0)"},
{"offset":0.1245,"color":"rgba(255,255,255,0)"},{"offset":0.1245,"color":"#8b0000"},{"offset":0.1323,"color":"#8b0000"},{"offset":0.1323,"color":"rgba(255,255,255,0)"},
{"offset":0.1566,"color":"rgba(255,255,255,0)"},{"offset":0.1566,"color":"#8b0000"},{"offset":0.1644,"color":"#8b0000"},{"offset":0.1644,"color":"rgba(255,255,255,0)"},
{"offset":0.1887,"color":"rgba(255,255,255,0)"},{"offset":0.1887,"color":"#8b0000"},{"offset":0.1965,"color":"#8b0000"},{"offset":0.1965,"color":"rgba(255,255,255,0)"},
{"offset":0.2207,"color":"rgba(255,255,255,0)"},{"offset":0.2207,"color":"#8b0000"},{"offset":0.2285,"color":"#8b0000"},{"offset":0.2285,"color":"rgba(255,255,255,0)"},
{"offset":0.2528,"color":"rgba(255,255,255,0)"},{"offset":0.2528,"color":"#8b0000"},{"offset":0.2606,"color":"#8b0000"},{"offset":0.2606,"color":"rgba(255,255,255,0)"},
{"offset":0.2849,"color":"rgba(255,255,255,0)"},{"offset":0.2849,"color":"#8b0000"},{"offset":0.2927,"color":"#8b0000"},{"offset":0.2927,"color":"rgba(255,255,255,0)"},
{"offset":0.317,"color":"rgba(255,255,255,0)"},{"offset":0.317,"color":"#8b0000"},{"offset":0.3248,"color":"#8b0000"},{"offset":0.3248,"color":"rgba(255,255,255,0)"},
{"offset":0.3491,"color":"rgba(255,255,255,0)"},{"offset":0.3491,"color":"#8b0000"},{"offset":0.3569,"color":"#8b0000"},{"offset":0.3569,"color":"rgba(255,255,255,0)"},
{"offset":0.3812,"color":"rgba(255,255,255,0)"},{"offset":0.3812,"color":"#8b0000"},{"offset":0.389,"color":"#8b0000"},{"offset":0.389,"color":"rgba(255,255,255,0)"},
{"offset":0.4133,"color":"rgba(255,255,255,0)"},{"offset":0.4133,"color":"#8b0000"},{"offset":0.4211,"color":"#8b0000"},{"offset":0.4211,"color":"rgba(255,255,255,0)"},
{"offset":0.4454,"color":"rgba(255,255,255,0)"},{"offset":0.4454,"color":"#8b0000"},{"offset":0.4532,"color":"#8b0000"},{"offset":0.4532,"color":"rgba(255,255,255,0)"},
{"offset":0.4775,"color":"rgba(255,255,255,0)"},{"offset":0.4775,"color":"#8b0000"},{"offset":0.4853,"color":"#8b0000"},{"offset":0.4853,"color":"rgba(255,255,255,0)"},
{"offset":0.5096,"color":"rgba(255,255,255,0)"},{"offset":0.5096,"color":"#8b0000"},{"offset":0.5174,"color":"#8b0000"},{"offset":0.5174,"color":"rgba(255,255,255,0)"},
{"offset":0.5417,"color":"rgba(255,255,255,0)"},{"offset":0.5417,"color":"#8b0000"},{"offset":0.5495,"color":"#8b0000"},{"offset":0.5495,"color":"rgba(255,255,255,0)"},
{"offset":0.5738,"color":"rgba(255,255,255,0)"},{"offset":0.5738,"color":"#8b0000"},{"offset":0.5816,"color":"#8b0000"},{"offset":0.5816,"color":"rgba(255,255,255,0)"},
{"offset":0.6058,"color":"rgba(255,255,255,0)"},{"offset":0.6058,"color":"#8b0000"},{"offset":0.6136,"color":"#8b0000"},{"offset":0.6136,"color":"rgba(255,255,255,0)"},
{"offset":0.6379,"color":"rgba(255,255,255,0)"},{"offset":0.6379,"color":"#8b0000"},{"offset":0.6457,"color":"#8b0000"},{"offset":0.6457,"color":"rgba(255,255,255,0)"},
{"offset":0.67,"color":"rgba(255,255,255,0)"},{"offset":0.67,"color":"#8b0000"},{"offset":0.6778,"color":"#8b0000"},{"offset":0.6778,"color":"rgba(255,255,255,0)"},
{"offset":0.7021,"color":"rgba(255,255,255,0)"},{"offset":0.7021,"color":"#8b0000"},{"offset":0.7099,"color":"#8b0000"},{"offset":0.7099,"color":"rgba(255,255,255,0)"},
{"offset":0.7342,"color":"rgba(255,255,255,0)"},{"offset":0.7342,"color":"#8b0000"},{"offset":0.742,"color":"#8b0000"},{"offset":0.742,"color":"rgba(255,255,255,0)"},
{"offset":0.7663,"color":"rgba(255,255,255,0)"},{"offset":0.7663,"color":"#8b0000"},{"offset":0.7741,"color":"#8b0000"},{"offset":0.7741,"color":"rgba(255,255,255,0)"},
{"offset":0.7984,"color":"rgba(255,255,255,0)"},{"offset":0.7984,"color":"#8b0000"},{"offset":0.8062,"color":"#8b0000"},{"offset":0.8062,"color":"rgba(255,255,255,0)"},
{"offset":0.8305,"color":"rgba(255,255,255,0)"},{"offset":0.8305,"color":"#8b0000"},{"offset":0.8383,"color":"#8b0000"},{"offset":0.8383,"color":"rgba(255,255,255,0)"},
{"offset":0.8626,"color":"rgba(255,255,255,0)"},{"offset":0.8626,"color":"#8b0000"},{"offset":0.8704,"color":"#8b0000"},{"offset":0.8704,"color":"rgba(255,255,255,0)"},
{"offset":0.8947,"color":"rgba(255,255,255,0)"},{"offset":0.8947,"color":"#8b0000"},{"offset":0.9025,"color":"#8b0000"},{"offset":0.9025,"color":"rgba(255,255,255,0)"},
{"offset":0.9268,"color":"rgba(255,255,255,0)"},{"offset":0.9268,"color":"#8b0000"},{"offset":0.9346,"color":"#8b0000"},{"offset":0.9346,"color":"rgba(255,255,255,0)"},
{"offset":0.9589,"color":"rgba(255,255,255,0)"},{"offset":0.9589,"color":"#8b0000"},{"offset":0.9667,"color":"#8b0000"},{"offset":0.9667,"color":"rgba(255,255,255,0)"}]}}},
  {"transform": [{"filter": "datum.g === 'Others'"}],
   "mark": {"type": "bar", "strokeWidth": 0, "fill": {"gradient":"linear","x1":0,"y1":0,"x2":1,"y2":0,"stops":[{"offset":0,"color":"#ffffff"},{"offset":0.153,"color":"#ffffff"},{"offset":0.153,"color":"#808080"},{"offset":0.181,"color":"#808080"},{"offset":0.181,"color":"#ffffff"},{"offset":0.319,"color":"#ffffff"},{"offset":0.319,"color":"#808080"},{"offset":0.347,"color":"#808080"},{"offset":0.347,"color":"#ffffff"},{"offset":0.486,"color":"#ffffff"},{"offset":0.486,"color":"#808080"},{"offset":0.514,"color":"#808080"},{"offset":0.514,"color":"#ffffff"},{"offset":0.653,"color":"#ffffff"},{"offset":0.653,"color":"#808080"},{"offset":0.681,"color":"#808080"},{"offset":0.681,"color":"#ffffff"},{"offset":0.819,"color":"#ffffff"},{"offset":0.819,"color":"#808080"},{"offset":0.847,"color":"#808080"},{"offset":0.847,"color":"#ffffff"},{"offset":1,"color":"#ffffff"}]}},
   "encoding": {"x": {"field": "s", "type": "nominal", "sort": ["C","N"], "axis": {"orient": "top", "title": "Sample 4", "labels": false, "ticks": false, "domain": false, "titleAnchor": "start", "titleAlign": "left", "titleBaseline": "alphabetic", "titleX": 8, "titleY": -18.5, "titleFontSize": 9, "titleFontWeight": "normal", "titleColor": "#222222"}}}},
  {"transform": [{"filter": "datum.g === 'Others'"}],
   "mark": {"type": "bar", "stroke": "#4d4d4d", "strokeWidth": 0.5},
   "encoding": {"x": {"field": "s", "type": "nominal", "sort": ["C","N"], "axis": null}, "fill": {"condition": {"test": "datum.s === 'C'", "value": {"gradient":"linear","x1":0,"y1":0,"x2":0,"y2":1,"stops":[{"offset":0.226,"color":"rgba(255,255,255,0)"},{"offset":0.226,"color":"#808080"},{"offset":0.274,"color":"#808080"},{"offset":0.274,"color":"rgba(255,255,255,0)"},{"offset":0.476,"color":"rgba(255,255,255,0)"},{"offset":0.476,"color":"#808080"},{"offset":0.524,"color":"#808080"},{"offset":0.524,"color":"rgba(255,255,255,0)"},{"offset":0.726,"color":"rgba(255,255,255,0)"},{"offset":0.726,"color":"#808080"},{"offset":0.774,"color":"#808080"},{"offset":0.774,"color":"rgba(255,255,255,0)"}]}},
   "value": {"gradient":"linear","x1":0,"y1":0,"x2":0,"y2":1,"stops":[{"offset":0.114,"color":"rgba(255,255,255,0)"},{"offset":0.114,"color":"#808080"},{"offset":0.136,"color":"#808080"},{"offset":0.136,"color":"rgba(255,255,255,0)"},{"offset":0.239,"color":"rgba(255,255,255,0)"},{"offset":0.239,"color":"#808080"},{"offset":0.261,"color":"#808080"},{"offset":0.261,"color":"rgba(255,255,255,0)"},{"offset":0.364,"color":"rgba(255,255,255,0)"},{"offset":0.364,"color":"#808080"},{"offset":0.386,"color":"#808080"},{"offset":0.386,"color":"rgba(255,255,255,0)"},{"offset":0.489,"color":"rgba(255,255,255,0)"},{"offset":0.489,"color":"#808080"},{"offset":0.511,"color":"#808080"},{"offset":0.511,"color":"rgba(255,255,255,0)"},{"offset":0.614,"color":"rgba(255,255,255,0)"},{"offset":0.614,"color":"#808080"},{"offset":0.636,"color":"#808080"},{"offset":0.636,"color":"rgba(255,255,255,0)"},{"offset":0.739,"color":"rgba(255,255,255,0)"},{"offset":0.739,"color":"#808080"},{"offset":0.761,"color":"#808080"},{"offset":0.761,"color":"rgba(255,255,255,0)"},{"offset":0.864,"color":"rgba(255,255,255,0)"},{"offset":0.864,"color":"#808080"},{"offset":0.886,"color":"#808080"},{"offset":0.886,"color":"rgba(255,255,255,0)"}]}}}}
 ]
},
{
 "width": 189, "height": 169,
 "title": {"text": "E"},
 "resolve": {"axis": {"x": "independent"}},
 "data": {"values": [
  {"s":"C","g":"Escherichia-Shigella","v":21.7},{"s":"C","g":"Enterococcus","v":5.1},{"s":"C","g":"Gemella","v":15.4},{"s":"C","g":"Streptococcus","v":3.4},{"s":"C","g":"Bacteroides","v":10.2},{"s":"C","g":"Fusobacterium","v":8.9},{"s":"C","g":"Haemophilus","v":2.4},{"s":"C","g":"Granulicatella","v":6.1},{"s":"C","g":"Eikenella","v":5.3},{"s":"C","g":"Leptotrichia","v":4.3},{"s":"C","g":"Rothia","v":0.3},{"s":"C","g":"Campylobacter","v":2.6},{"s":"C","g":"Achromobacter","v":1.0},{"s":"C","g":"Parasutterella","v":1.2},{"s":"C","g":"Histomonas","v":0.3},{"s":"C","g":"Klebsiella","v":1.3},{"s":"C","g":"Candidatus_Zinderia","v":0.2},{"s":"C","g":"Others","v":10.3},
  {"s":"N","g":"Escherichia-Shigella","v":49},{"s":"N","g":"Enterococcus","v":16.1},{"s":"N","g":"Gemella","v":1.7},{"s":"N","g":"Streptococcus","v":10.8},{"s":"N","g":"Bacteroides","v":0.6},{"s":"N","g":"Fusobacterium","v":0.6},{"s":"N","g":"Haemophilus","v":7.1},{"s":"N","g":"Granulicatella","v":1.0},{"s":"N","g":"Eikenella","v":0.2},{"s":"N","g":"Leptotrichia","v":0.2},{"s":"N","g":"Rothia","v":3.0},{"s":"N","g":"Campylobacter","v":0.3},{"s":"N","g":"Achromobacter","v":0.8},{"s":"N","g":"Parasutterella","v":0.4},{"s":"N","g":"Histomonas","v":1.0},{"s":"N","g":"Klebsiella","v":1.2},{"s":"N","g":"Candidatus_Zinderia","v":1.1},{"s":"N","g":"Others","v":4.9}
 ]},
 "transform": [{"window": [{"op": "row_number", "as": "o"}]}, {"stack": "v", "groupby": ["s"], "sort": [{"field": "o", "order": "ascending"}], "as": ["y0", "y1"]}],
 "encoding": {
  "x": {"field": "s", "type": "nominal", "sort": ["C","N"], "scale": {"paddingInner": 0.413, "paddingOuter": 0.7065}, "axis": {"title": null}},
  "y": {"field": "y0", "type": "quantitative", "scale": {"domain": [0,100], "nice": false}, "axis": {"title": "Percentage of sequences", "values": [0,20,40,60,80,100]}},
  "y2": {"field": "y1"}
 },
 "layer": [
  {"mark": {"type": "bar", "stroke": "#4d4d4d", "strokeWidth": 0.5},
   "encoding": {"color": {"field": "g", "type": "nominal",
    "scale": {"domain": ["Escherichia-Shigella","Enterococcus","Gemella","Streptococcus","Bacteroides","Fusobacterium","Haemophilus","Granulicatella","Eikenella","Leptotrichia","Rothia","Campylobacter","Achromobacter","Parasutterella","Histomonas","Klebsiella","Candidatus_Zinderia","Others"], "range": ["#262626","#ff0000","#00ff00","#ffff00","#0000ff","#ff00ff","#00ffff","#c0c0c0","#800000","#008000","#808000","#000080","#800080","#008080","#808080","#000000","#ff0000","#ffffff"]},
    "legend": {"title": null, "orient": "none", "legendX": 204, "legendY": -4, "encode": {"labels": {"update": {"fontStyle": {"signal": "datum.value === 'Others' ? 'normal' : 'italic'"}}}}}}}},
  {"transform": [{"filter": "datum.g === 'Others'"}],
   "mark": {"type": "bar", "strokeWidth": 0, "fill": {"gradient":"linear","x1":0,"y1":0,"x2":1,"y2":0,"stops":[{"offset":0,"color":"#ffffff"},{"offset":0.153,"color":"#ffffff"},{"offset":0.153,"color":"#808080"},{"offset":0.181,"color":"#808080"},{"offset":0.181,"color":"#ffffff"},{"offset":0.319,"color":"#ffffff"},{"offset":0.319,"color":"#808080"},{"offset":0.347,"color":"#808080"},{"offset":0.347,"color":"#ffffff"},{"offset":0.486,"color":"#ffffff"},{"offset":0.486,"color":"#808080"},{"offset":0.514,"color":"#808080"},{"offset":0.514,"color":"#ffffff"},{"offset":0.653,"color":"#ffffff"},{"offset":0.653,"color":"#808080"},{"offset":0.681,"color":"#808080"},{"offset":0.681,"color":"#ffffff"},{"offset":0.819,"color":"#ffffff"},{"offset":0.819,"color":"#808080"},{"offset":0.847,"color":"#808080"},{"offset":0.847,"color":"#ffffff"},{"offset":1,"color":"#ffffff"}]}},
   "encoding": {"x": {"field": "s", "type": "nominal", "sort": ["C","N"], "axis": {"orient": "top", "title": "Sample 5", "labels": false, "ticks": false, "domain": false, "titleAnchor": "start", "titleAlign": "left", "titleBaseline": "alphabetic", "titleX": 11, "titleY": -22, "titleFontSize": 9, "titleFontWeight": "normal", "titleColor": "#222222"}}}},
  {"transform": [{"filter": "datum.g === 'Others'"}],
   "mark": {"type": "bar", "stroke": "#4d4d4d", "strokeWidth": 0.5},
   "encoding": {"x": {"field": "s", "type": "nominal", "sort": ["C","N"], "axis": null}, "fill": {"condition": {"test": "datum.s === 'C'", "value": {"gradient":"linear","x1":0,"y1":0,"x2":0,"y2":1,"stops":[{"offset":0.303,"color":"rgba(255,255,255,0)"},{"offset":0.303,"color":"#808080"},{"offset":0.363,"color":"#808080"},{"offset":0.363,"color":"rgba(255,255,255,0)"},{"offset":0.637,"color":"rgba(255,255,255,0)"},{"offset":0.637,"color":"#808080"},{"offset":0.697,"color":"#808080"},{"offset":0.697,"color":"rgba(255,255,255,0)"}]}}, "value": {"gradient":"linear","x1":0,"y1":0,"x2":0,"y2":1,"stops":[{"offset":0.45,"color":"rgba(255,255,255,0)"},{"offset":0.45,"color":"#808080"},{"offset":0.55,"color":"#808080"},{"offset":0.55,"color":"rgba(255,255,255,0)"}]}}}}
 ]
},
{
 "width": 189, "height": 169,
 "title": {"text": "F"},
 "resolve": {"axis": {"x": "independent"}},
 "data": {"values": [
  {"s":"C","g":"Klebsiella","v":58.8},{"s":"C","g":"Escherichia-Shigella","v":6.9},{"s":"C","g":"Fusobacterium","v":2.9},{"s":"C","g":"Haemophilus","v":4.4},{"s":"C","g":"Achromobacter","v":4.1},{"s":"C","g":"Aeromonas","v":0.8},{"s":"C","g":"Aggregatibacter","v":1.2},{"s":"C","g":"Morganella","v":1.4},{"s":"C","g":"Bordetella","v":2.5},{"s":"C","g":"Bacteroides","v":1.8},{"s":"C","g":"Anaerovirgula","v":1.2},{"s":"C","g":"Parvimonas","v":2.0},{"s":"C","g":"Gemella","v":1.0},{"s":"C","g":"Streptococcus","v":0.8},{"s":"C","g":"Enterobacter","v":1.8},{"s":"C","g":"Acinetobacter","v":0.7},{"s":"C","g":"Peptostreptococcus","v":0.7},{"s":"C","g":"Tyzzerella_4","v":0.3},{"s":"C","g":"Others","v":6.7},
  {"s":"N","g":"Klebsiella","v":16},{"s":"N","g":"Escherichia-Shigella","v":11.2},{"s":"N","g":"Fusobacterium","v":11.1},{"s":"N","g":"Haemophilus","v":6.1},{"s":"N","g":"Achromobacter","v":5.3},{"s":"N","g":"Aeromonas","v":8.5},{"s":"N","g":"Aggregatibacter","v":7.1},{"s":"N","g":"Morganella","v":7.3},{"s":"N","g":"Bordetella","v":2.9},{"s":"N","g":"Bacteroides","v":3.0},{"s":"N","g":"Anaerovirgula","v":2.5},{"s":"N","g":"Parvimonas","v":1.2},{"s":"N","g":"Gemella","v":1.3},{"s":"N","g":"Streptococcus","v":1.5},{"s":"N","g":"Enterobacter","v":1.5},{"s":"N","g":"Acinetobacter","v":1.0},{"s":"N","g":"Peptostreptococcus","v":1.0},{"s":"N","g":"Tyzzerella_4","v":1.5},{"s":"N","g":"Others","v":10}
 ]},
 "transform": [{"window": [{"op": "row_number", "as": "o"}]}, {"stack": "v", "groupby": ["s"], "sort": [{"field": "o", "order": "ascending"}], "as": ["y0", "y1"]}],
 "encoding": {
  "x": {"field": "s", "type": "nominal", "sort": ["C","N"], "scale": {"paddingInner": 0.413, "paddingOuter": 0.7065}, "axis": {"title": null}},
  "y": {"field": "y0", "type": "quantitative", "scale": {"domain": [0,100], "nice": false}, "axis": {"title": "Percentage of sequences", "values": [0,20,40,60,80,100]}},
  "y2": {"field": "y1"}
 },
 "layer": [
  {"mark": {"type": "bar", "stroke": "#4d4d4d", "strokeWidth": 0.5},
   "encoding": {"color": {"field": "g", "type": "nominal",
    "scale": {"domain": ["Klebsiella","Escherichia-Shigella","Fusobacterium","Haemophilus","Achromobacter","Aeromonas","Aggregatibacter","Morganella","Bordetella","Bacteroides","Anaerovirgula","Parvimonas","Gemella","Streptococcus","Enterobacter","Acinetobacter","Peptostreptococcus","Tyzzerella_4","Others"], "range": ["#262626","#ff8000","#c0c000","#008000","#008080","#004080","#800080","#800000","#ff8000","#c0c000","#008000","#008080","#004080","#800080","#800000","#ff8000","#c0c000","#008000","#ffffff"]},
    "legend": {"title": null, "orient": "none", "legendX": 207, "legendY": 3, "encode": {"labels": {"update": {"fontStyle": {"signal": "datum.value === 'Others' ? 'normal' : 'italic'"}}}}}}}},
  {"transform": [{"filter": "datum.g === 'Others'"}],
   "mark": {"type": "bar", "strokeWidth": 0, "fill": {"gradient":"linear","x1":0,"y1":0,"x2":1,"y2":0,"stops":[{"offset":0,"color":"#ffffff"},{"offset":0.153,"color":"#ffffff"},{"offset":0.153,"color":"#808080"},{"offset":0.181,"color":"#808080"},{"offset":0.181,"color":"#ffffff"},{"offset":0.319,"color":"#ffffff"},{"offset":0.319,"color":"#808080"},{"offset":0.347,"color":"#808080"},{"offset":0.347,"color":"#ffffff"},{"offset":0.486,"color":"#ffffff"},{"offset":0.486,"color":"#808080"},{"offset":0.514,"color":"#808080"},{"offset":0.514,"color":"#ffffff"},{"offset":0.653,"color":"#ffffff"},{"offset":0.653,"color":"#808080"},{"offset":0.681,"color":"#808080"},{"offset":0.681,"color":"#ffffff"},{"offset":0.819,"color":"#ffffff"},{"offset":0.819,"color":"#808080"},{"offset":0.847,"color":"#808080"},{"offset":0.847,"color":"#ffffff"},{"offset":1,"color":"#ffffff"}]}},
   "encoding": {"x": {"field": "s", "type": "nominal", "sort": ["C","N"], "axis": {"orient": "top", "title": "Sample 6", "labels": false, "ticks": false, "domain": false, "titleAnchor": "start", "titleAlign": "left", "titleBaseline": "alphabetic", "titleX": 5, "titleY": -22, "titleFontSize": 9, "titleFontWeight": "normal", "titleColor": "#222222"}}}},
  {"transform": [{"filter": "datum.g === 'Others'"}],
   "mark": {"type": "bar", "stroke": "#4d4d4d", "strokeWidth": 0.5},
   "encoding": {"x": {"field": "s", "type": "nominal", "sort": ["C","N"], "axis": null}, "fill": {"condition": {"test": "datum.s === 'C'", "value": {"gradient":"linear","x1":0,"y1":0,"x2":0,"y2":1,"stops":[{"offset":0.45,"color":"rgba(255,255,255,0)"},{"offset":0.45,"color":"#808080"},{"offset":0.55,"color":"#808080"},{"offset":0.55,"color":"rgba(255,255,255,0)"}]}}, "value": {"gradient":"linear","x1":0,"y1":0,"x2":0,"y2":1,"stops":[{"offset":0.303,"color":"rgba(255,255,255,0)"},{"offset":0.303,"color":"#808080"},{"offset":0.363,"color":"#808080"},{"offset":0.363,"color":"rgba(255,255,255,0)"},{"offset":0.637,"color":"rgba(255,255,255,0)"},{"offset":0.637,"color":"#808080"},{"offset":0.697,"color":"#808080"},{"offset":0.697,"color":"rgba(255,255,255,0)"}]}}}}
 ]
},
{
 "width": 189, "height": 169,
 "title": {"text": "G"},
 "resolve": {"axis": {"x": "independent"}},
 "data": {"values": [
  {"s":"C","g":"Roseburia","v":3.7},{"s":"C","g":"Prevotella","v":23.3},{"s":"C","g":"Escherichia-Shigella","v":0.8},{"s":"C","g":"Lachnoclostridium","v":3.6},{"s":"C","g":"Bacteroides","v":10.8},{"s":"C","g":"Tyzzerella_4","v":1.8},{"s":"C","g":"Lachnospiraceae_UCG-005","v":0.8},{"s":"C","g":"Lachnospiraceae_NK4A136_group","v":2.4},{"s":"C","g":"[Eubacterium]_nodatum_group","v":6.1},{"s":"C","g":"Coprococcus_3","v":1.3},{"s":"C","g":"Holdemanella","v":1.4},{"s":"C","g":"Dialister","v":5.3},{"s":"C","g":"Erysipelotrichaceae_UCG-003","v":0.3},{"s":"C","g":"Johnsonella","v":3.7},{"s":"C","g":"Lachnospiraceae_UCG-010","v":2.9},{"s":"C","g":"Odoribacter","v":2.6},{"s":"C","g":"Prevotella_2","v":2.8},{"s":"C","g":"Peptostreptococcus","v":2.2},{"s":"C","g":"Treponema_2","v":2.5},{"s":"C","g":"Porphyromonas","v":1.0},{"s":"C","g":"Solobacterium","v":1.0},{"s":"C","g":"Alloprevotella","v":1.2},{"s":"C","g":"Gemella","v":1.3},{"s":"C","g":"Leptotrichia","v":0.8},{"s":"C","g":"Others","v":16.4},
  {"s":"N","g":"Roseburia","v":24.5},{"s":"N","g":"Prevotella","v":1.9},{"s":"N","g":"Escherichia-Shigella","v":14.2},{"s":"N","g":"Lachnoclostridium","v":10.1},{"s":"N","g":"Bacteroides","v":2.3},{"s":"N","g":"Tyzzerella_4","v":7.5},{"s":"N","g":"Lachnospiraceae_UCG-005","v":8.0},{"s":"N","g":"Lachnospiraceae_NK4A136_group","v":5.8},{"s":"N","g":"[Eubacterium]_nodatum_group","v":0.2},{"s":"N","g":"Coprococcus_3","v":3.7},{"s":"N","g":"Holdemanella","v":4.0},{"s":"N","g":"Dialister","v":0.3},{"s":"N","g":"Erysipelotrichaceae_UCG-003","v":4.1},{"s":"N","g":"Johnsonella","v":0.8},{"s":"N","g":"Lachnospiraceae_UCG-010","v":0.3},{"s":"N","g":"Odoribacter","v":0.6},{"s":"N","g":"Prevotella_2","v":0.2},{"s":"N","g":"Peptostreptococcus","v":0.2},{"s":"N","g":"Treponema_2","v":0.2},{"s":"N","g":"Alloprevotella","v":0.3},{"s":"N","g":"Others","v":10.8}
 ]},
 "transform": [{"window": [{"op": "row_number", "as": "o"}]}, {"stack": "v", "groupby": ["s"], "sort": [{"field": "o", "order": "ascending"}], "as": ["y0", "y1"]}],
 "encoding": {
  "x": {"field": "s", "type": "nominal", "sort": ["C","N"], "scale": {"paddingInner": 0.413, "paddingOuter": 0.7065}, "axis": {"title": null}},
  "y": {"field": "y0", "type": "quantitative", "scale": {"domain": [0,100], "nice": false}, "axis": {"title": "Percentage of sequences", "values": [0,20,40,60,80,100]}},
  "y2": {"field": "y1"}
 },
 "layer": [
  {"mark": {"type": "bar", "stroke": "#4d4d4d", "strokeWidth": 0.5},
   "encoding": {"color": {"field": "g", "type": "nominal",
    "scale": {"domain": ["Roseburia","Prevotella","Escherichia-Shigella","Lachnoclostridium","Bacteroides","Tyzzerella_4","Lachnospiraceae_UCG-005","Lachnospiraceae_NK4A136_group","[Eubacterium]_nodatum_group","Coprococcus_3","Holdemanella","Dialister","Erysipelotrichaceae_UCG-003","Johnsonella","Lachnospiraceae_UCG-010","Odoribacter","Prevotella_2","Peptostreptococcus","Treponema_2","Porphyromonas","Solobacterium","Alloprevotella","Gemella","Leptotrichia","Others"], "range": ["#000000","#ff0000","#262626","#ffff00","#0000ff","#ff00ff","#00ffff","#c0c0c0","#800000","#008000","#808000","#000080","#800080","#008080","#808080","#000000","#ff0000","#00ff00","#ffff00","#0000ff","#ff00ff","#00ffff","#c0c0c0","#800000","#ffffff"]},
    "legend": {"title": null, "orient": "none", "legendX": 190, "legendY": -20, "labelFontSize": 7, "encode": {"labels": {"update": {"fontStyle": {"signal": "datum.value === 'Others' ? 'normal' : 'italic'"}}}}}}}},
  {"transform": [{"filter": "datum.g === 'Others'"}],
   "mark": {"type": "bar", "strokeWidth": 0, "fill": {"gradient":"linear","x1":0,"y1":0,"x2":1,"y2":0,"stops":[{"offset":0,"color":"#ffffff"},{"offset":0.153,"color":"#ffffff"},{"offset":0.153,"color":"#808080"},{"offset":0.181,"color":"#808080"},{"offset":0.181,"color":"#ffffff"},{"offset":0.319,"color":"#ffffff"},{"offset":0.319,"color":"#808080"},{"offset":0.347,"color":"#808080"},{"offset":0.347,"color":"#ffffff"},{"offset":0.486,"color":"#ffffff"},{"offset":0.486,"color":"#808080"},{"offset":0.514,"color":"#808080"},{"offset":0.514,"color":"#ffffff"},{"offset":0.653,"color":"#ffffff"},{"offset":0.653,"color":"#808080"},{"offset":0.681,"color":"#808080"},{"offset":0.681,"color":"#ffffff"},{"offset":0.819,"color":"#ffffff"},{"offset":0.819,"color":"#808080"},{"offset":0.847,"color":"#808080"},{"offset":0.847,"color":"#ffffff"},{"offset":1,"color":"#ffffff"}]}},
   "encoding": {"x": {"field": "s", "type": "nominal", "sort": ["C","N"], "axis": {"orient": "top", "title": "Sample 7", "labels": false, "ticks": false, "domain": false, "titleAnchor": "start", "titleAlign": "left", "titleBaseline": "alphabetic", "titleX": 4, "titleY": -22, "titleFontSize": 9, "titleFontWeight": "normal", "titleColor": "#222222"}}}},
  {"transform": [{"filter": "datum.g === 'Others'"}],
   "mark": {"type": "bar", "stroke": "#4d4d4d", "strokeWidth": 0.5},
   "encoding": {"x": {"field": "s", "type": "nominal", "sort": ["C","N"], "axis": null}, "fill": {"condition": {"test": "datum.s === 'C'", "value": {"gradient":"linear","x1":0,"y1":0,"x2":0,"y2":1,"stops":[{"offset":0.182,"color":"rgba(255,255,255,0)"},{"offset":0.182,"color":"#808080"},{"offset":0.218,"color":"#808080"},{"offset":0.218,"color":"rgba(255,255,255,0)"},{"offset":0.382,"color":"rgba(255,255,255,0)"},{"offset":0.382,"color":"#808080"},{"offset":0.418,"color":"#808080"},{"offset":0.418,"color":"rgba(255,255,255,0)"},{"offset":0.582,"color":"rgba(255,255,255,0)"},{"offset":0.582,"color":"#808080"},{"offset":0.618,"color":"#808080"},{"offset":0.618,"color":"rgba(255,255,255,0)"},{"offset":0.782,"color":"rgba(255,255,255,0)"},{"offset":0.782,"color":"#808080"},{"offset":0.818,"color":"#808080"},{"offset":0.818,"color":"rgba(255,255,255,0)"}]}}, "value": {"gradient":"linear","x1":0,"y1":0,"x2":0,"y2":1,"stops":[{"offset":0.303,"color":"rgba(255,255,255,0)"},{"offset":0.303,"color":"#808080"},{"offset":0.363,"color":"#808080"},{"offset":0.363,"color":"rgba(255,255,255,0)"},{"offset":0.637,"color":"rgba(255,255,255,0)"},{"offset":0.637,"color":"#808080"},{"offset":0.697,"color":"#808080"},{"offset":0.697,"color":"rgba(255,255,255,0)"}]}}}}
 ]
},
{
 "width": 189, "height": 169,
 "title": {"text": "H"},
 "resolve": {"axis": {"x": "independent"}},
 "data": {"values": [
  {"s":"C","g":"Morganella","v":80},{"s":"C","g":"Escherichia-Shigella","v":13.3},{"s":"C","g":"Enterococcus","v":2.2},{"s":"C","g":"Streptococcus","v":0.2},{"s":"C","g":"Cronobacter","v":0.8},{"s":"C","g":"Haemophilus","v":0.2},{"s":"C","g":"Others","v":3.3},
  {"s":"N","g":"Morganella","v":16.4},{"s":"N","g":"Escherichia-Shigella","v":66.8},{"s":"N","g":"Enterococcus","v":5.2},{"s":"N","g":"Streptococcus","v":2.3},{"s":"N","g":"Cronobacter","v":0.6},{"s":"N","g":"Haemophilus","v":2.6},{"s":"N","g":"Others","v":6.1}
 ]},
 "transform": [{"window": [{"op": "row_number", "as": "o"}]}, {"stack": "v", "groupby": ["s"], "sort": [{"field": "o", "order": "ascending"}], "as": ["y0", "y1"]}],
 "encoding": {
  "x": {"field": "s", "type": "nominal", "sort": ["C","N"], "scale": {"paddingInner": 0.413, "paddingOuter": 0.7065}, "axis": {"title": null}},
  "y": {"field": "y0", "type": "quantitative", "scale": {"domain": [0,100], "nice": false}, "axis": {"title": "Percentage of sequences", "values": [0,20,40,60,80,100]}},
  "y2": {"field": "y1"}
 },
 "layer": [
  {"mark": {"type": "bar", "stroke": "#4d4d4d", "strokeWidth": 0.5},
   "encoding": {"color": {"field": "g", "type": "nominal",
    "scale": {"domain": ["Morganella","Escherichia-Shigella","Enterococcus","Streptococcus","Cronobacter","Haemophilus","Others"], "range": ["#000000","#262626","#00ff00","#ffff00","#0000ff","#ff00ff","#ffffff"]},
    "legend": {"title": null, "orient": "none", "legendX": 196, "legendY": 31, "encode": {"labels": {"update": {"fontStyle": {"signal": "datum.value === 'Others' ? 'normal' : 'italic'"}}}}}}}},
  {"transform": [{"filter": "datum.g === 'Others'"}],
   "mark": {"type": "bar", "strokeWidth": 0, "fill": {"gradient":"linear","x1":0,"y1":0,"x2":1,"y2":0,"stops":[{"offset":0,"color":"#ffffff"},{"offset":0.153,"color":"#ffffff"},{"offset":0.153,"color":"#808080"},{"offset":0.181,"color":"#808080"},{"offset":0.181,"color":"#ffffff"},{"offset":0.319,"color":"#ffffff"},{"offset":0.319,"color":"#808080"},{"offset":0.347,"color":"#808080"},{"offset":0.347,"color":"#ffffff"},{"offset":0.486,"color":"#ffffff"},{"offset":0.486,"color":"#808080"},{"offset":0.514,"color":"#808080"},{"offset":0.514,"color":"#ffffff"},{"offset":0.653,"color":"#ffffff"},{"offset":0.653,"color":"#808080"},{"offset":0.681,"color":"#808080"},{"offset":0.681,"color":"#ffffff"},{"offset":0.819,"color":"#ffffff"},{"offset":0.819,"color":"#808080"},{"offset":0.847,"color":"#808080"},{"offset":0.847,"color":"#ffffff"},{"offset":1,"color":"#ffffff"}]}},
   "encoding": {"x": {"field": "s", "type": "nominal", "sort": ["C","N"], "axis": {"orient": "top", "title": "Sample 8", "labels": false, "ticks": false, "domain": false, "titleAnchor": "start", "titleAlign": "left", "titleBaseline": "alphabetic", "titleX": -1, "titleY": -22, "titleFontSize": 9, "titleFontWeight": "normal", "titleColor": "#222222"}}}},
  {"transform": [{"filter": "datum.g === 'Others'"}],
   "mark": {"type": "bar", "stroke": "#4d4d4d", "strokeWidth": 0.5},
   "encoding": {"x": {"field": "s", "type": "nominal", "sort": ["C","N"], "axis": null}, "fill": {"condition": {"test": "datum.s === 'N'", "value": {"gradient":"linear","x1":0,"y1":0,"x2":0,"y2":1,"stops":[{"offset":0.45,"color":"rgba(255,255,255,0)"},{"offset":0.45,"color":"#808080"},{"offset":0.55,"color":"#808080"},{"offset":0.55,"color":"rgba(255,255,255,0)"}]}}, "value": "transparent"}}}
 ]
}
]
}
